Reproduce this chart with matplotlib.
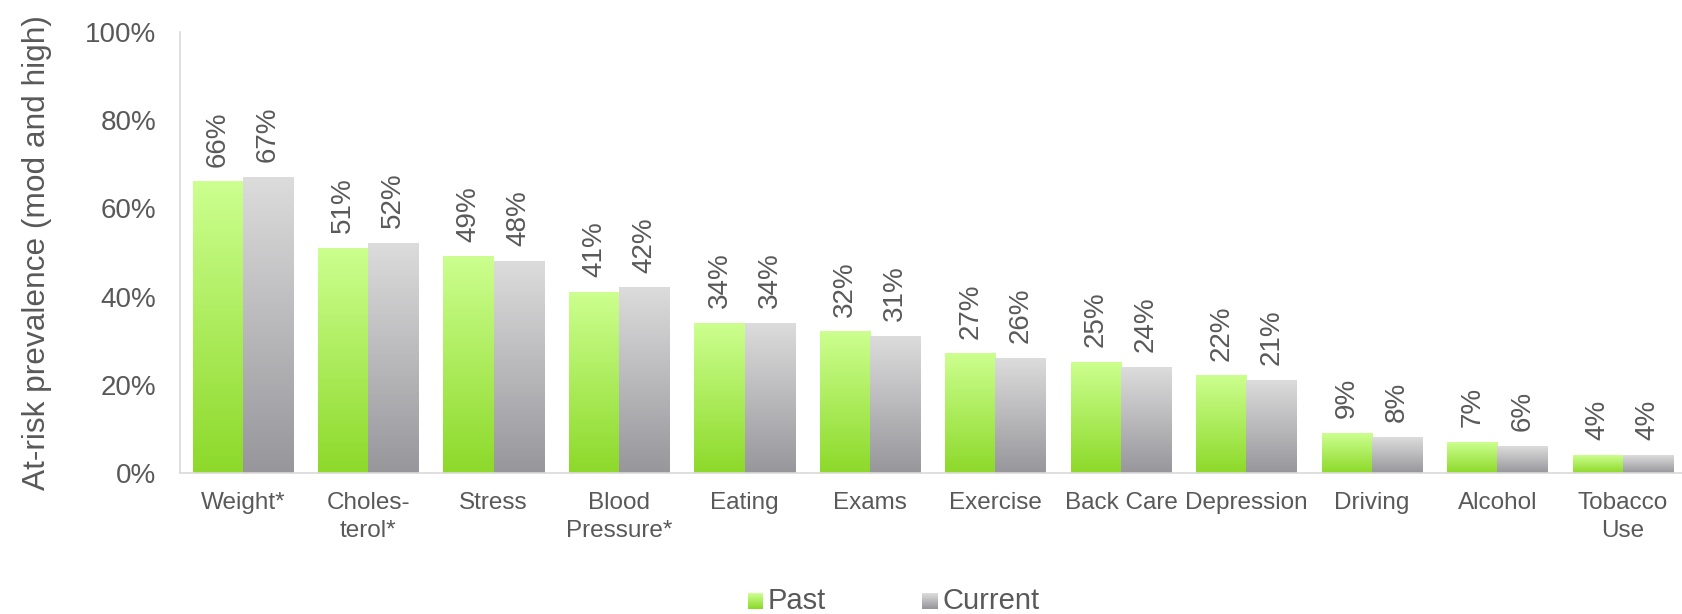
import numpy as np
import matplotlib
matplotlib.use("Agg")
import matplotlib.pyplot as plt
from matplotlib.colors import LinearSegmentedColormap
from matplotlib.legend_handler import HandlerBase
from matplotlib.patches import Rectangle, Patch
from matplotlib.ticker import FuncFormatter

categories = ["Weight*", "Choles-\nterol*", "Stress", "Blood\nPressure*", "Eating",
              "Exams", "Exercise", "Back Care", "Depression", "Driving",
              "Alcohol", "Tobacco\nUse"]
past = [66, 51, 49, 41, 34, 32, 27, 25, 22, 9, 7, 4]
current = [67, 52, 48, 42, 34, 31, 26, 24, 21, 8, 6, 4]
series_names = ["Past", "Current"]

TEXT = "#595959"
green = LinearSegmentedColormap.from_list("g", ["#8DD92A", "#CCFF8F"])
gray = LinearSegmentedColormap.from_list("k", ["#97969B", "#DCDCDC"])

plt.rcParams["font.family"] = ["Liberation Sans", "DejaVu Sans"]

fig = plt.figure(figsize=(16.83, 6.14), dpi=100)
ax = fig.add_axes([180 / 1683, 1 - 473 / 614, 1 - 180 / 1683, 441 / 614])

x = np.arange(len(categories))
w = 0.4
grad = np.linspace(0, 1, 256).reshape(-1, 1)

def gradient_bars(xs, vals, cmap):
    bars = ax.bar(xs, vals, w, color="none", edgecolor="none")
    for b in bars:
        x0, y0 = b.get_x(), b.get_y()
        ax.imshow(grad, cmap=cmap, origin="lower", aspect="auto",
                  extent=[x0, x0 + b.get_width(), y0, y0 + b.get_height()],
                  zorder=2, interpolation="bilinear")
    return bars

b1 = gradient_bars(x - w / 2, past, green)
b2 = gradient_bars(x + w / 2, current, gray)

for xs, vals in ((x - w / 2, past), (x + w / 2, current)):
    for xi, v in zip(xs, vals):
        ax.annotate(f"{v}%", (xi, v), xytext=(0, 11), textcoords="offset points",
                    rotation=90, ha="center", va="bottom", fontsize=20, color=TEXT)

ax.set_xlim(-0.5, 11.48)
ax.set_ylim(0, 100)
ax.set_yticks(range(0, 101, 20))
ax.yaxis.set_major_formatter(FuncFormatter(lambda v, p: f"{int(v)}%"))
ax.set_xticks(x)
ax.set_xticklabels(categories, fontsize=17.5, color=TEXT, linespacing=1.35)
ax.tick_params(axis="y", length=0, pad=17, labelsize=20, labelcolor=TEXT)
ax.tick_params(axis="x", length=0, pad=14)
for s in ("top", "right"):
    ax.spines[s].set_visible(False)
for s in ("left", "bottom"):
    ax.spines[s].set_color("#D9D9D9")
    ax.spines[s].set_linewidth(1.2)
ax.set_ylabel("At-risk prevalence (mod and high)", fontsize=22.8, color=TEXT)
ax.yaxis.set_label_coords((52 - 180) / 1503, 0.5)


class GradientHandler(HandlerBase):
    def __init__(self, cmap):
        super().__init__()
        self.cmap = cmap

    def create_artists(self, legend, orig_handle, xdescent, ydescent, width,
                       height, fontsize, trans):
        n = 20
        side = 11.5
        x0 = -xdescent + width - side
        y0 = -ydescent + (height - side) / 2 - 1.5
        arts = []
        for i in range(n):
            r = Rectangle((x0, y0 + side * i / n), side, side / n + 0.2,
                          facecolor=self.cmap(i / (n - 1)), edgecolor="none",
                          transform=trans)
            arts.append(r)
        return arts


h1, h2 = Patch(label=series_names[0]), Patch(label=series_names[1])
fig.legend([h1, h2], series_names, loc="center", bbox_to_anchor=(0.531, 1 - 601 / 614),
           ncol=2, frameon=False, fontsize=21, labelcolor=TEXT,
           handler_map={h1: GradientHandler(green), h2: GradientHandler(gray)},
           handlelength=0.55, handletextpad=0.15, columnspacing=3.3,
           borderpad=0, borderaxespad=0)

fig.savefig("out.png", dpi=100)
